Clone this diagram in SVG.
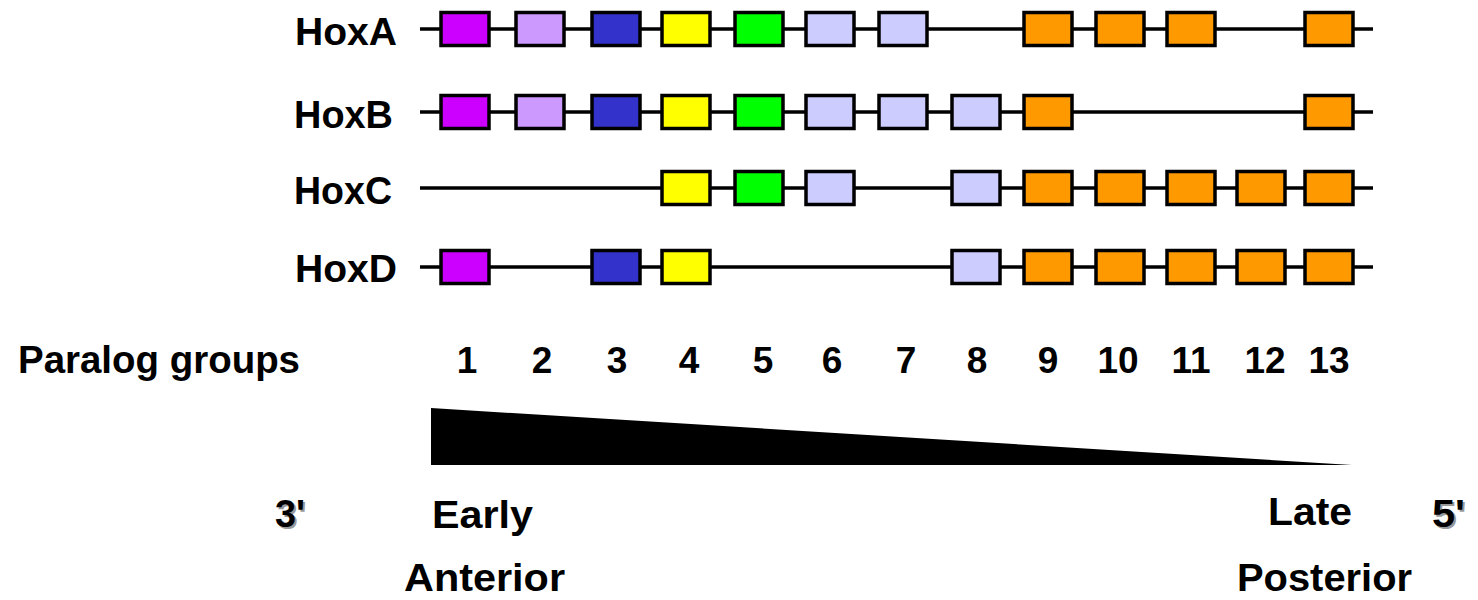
<svg xmlns="http://www.w3.org/2000/svg" width="1478" height="600" viewBox="0 0 1478 600">
<style>
.t{font-family:"Liberation Sans",Arial,sans-serif;font-weight:bold;font-size:39px;fill:#000}
.n{font-family:"Liberation Sans",Arial,sans-serif;font-weight:bold;font-size:37px;fill:#000;text-anchor:middle}
.sh{fill:#999}
.g{stroke:#000;stroke-width:3.5}
.c1{fill:#CC00FF}.c2{fill:#CC99FF}.c3{fill:#3333CC}.c4{fill:#FFFF00}.c5{fill:#00FF00}.c6{fill:#CCCCFF}.c9{fill:#FF9900}
.ln{stroke:#000;stroke-width:3.5;fill:none}
</style>
<rect width="1478" height="600" fill="#fff"/>
<g id="connectors">
<line class="ln" x1="420" y1="29" x2="1373" y2="29"/>
<line class="ln" x1="420" y1="112" x2="1373" y2="112"/>
<line class="ln" x1="420" y1="188" x2="1373" y2="188"/>
<line class="ln" x1="420" y1="267" x2="1373" y2="267"/>
</g>
<g id="HoxA">
<text class="t" x="295" y="45" textLength="102" lengthAdjust="spacingAndGlyphs">HoxA</text>
<rect class="g c1" x="441" y="12.5" width="48" height="33"/>
<rect class="g c2" x="516" y="12.5" width="48" height="33"/>
<rect class="g c3" x="592" y="12.5" width="48" height="33"/>
<rect class="g c4" x="662" y="12.5" width="48" height="33"/>
<rect class="g c5" x="735" y="12.5" width="48" height="33"/>
<rect class="g c6" x="806" y="12.5" width="48" height="33"/>
<rect class="g c6" x="879" y="12.5" width="48" height="33"/>
<rect class="g c9" x="1024" y="12.5" width="48" height="33"/>
<rect class="g c9" x="1096" y="12.5" width="48" height="33"/>
<rect class="g c9" x="1167" y="12.5" width="48" height="33"/>
<rect class="g c9" x="1305" y="12.5" width="48" height="33"/>
</g>
<g id="HoxB">
<text class="t" x="294" y="128" textLength="99" lengthAdjust="spacingAndGlyphs">HoxB</text>
<rect class="g c1" x="441" y="95.5" width="48" height="33"/>
<rect class="g c2" x="516" y="95.5" width="48" height="33"/>
<rect class="g c3" x="592" y="95.5" width="48" height="33"/>
<rect class="g c4" x="662" y="95.5" width="48" height="33"/>
<rect class="g c5" x="735" y="95.5" width="48" height="33"/>
<rect class="g c6" x="806" y="95.5" width="48" height="33"/>
<rect class="g c6" x="879" y="95.5" width="48" height="33"/>
<rect class="g c6" x="952" y="95.5" width="48" height="33"/>
<rect class="g c9" x="1024" y="95.5" width="48" height="33"/>
<rect class="g c9" x="1305" y="95.5" width="48" height="33"/>
</g>
<g id="HoxC">
<text class="t" x="294" y="204" textLength="98" lengthAdjust="spacingAndGlyphs">HoxC</text>
<rect class="g c4" x="662" y="171.5" width="48" height="33"/>
<rect class="g c5" x="735" y="171.5" width="48" height="33"/>
<rect class="g c6" x="806" y="171.5" width="48" height="33"/>
<rect class="g c6" x="952" y="171.5" width="48" height="33"/>
<rect class="g c9" x="1024" y="171.5" width="48" height="33"/>
<rect class="g c9" x="1096" y="171.5" width="48" height="33"/>
<rect class="g c9" x="1167" y="171.5" width="48" height="33"/>
<rect class="g c9" x="1237" y="171.5" width="48" height="33"/>
<rect class="g c9" x="1305" y="171.5" width="48" height="33"/>
</g>
<g id="HoxD">
<text class="t" x="295" y="282" textLength="102" lengthAdjust="spacingAndGlyphs">HoxD</text>
<rect class="g c1" x="441" y="250.5" width="48" height="33"/>
<rect class="g c3" x="592" y="250.5" width="48" height="33"/>
<rect class="g c4" x="662" y="250.5" width="48" height="33"/>
<rect class="g c6" x="952" y="250.5" width="48" height="33"/>
<rect class="g c9" x="1024" y="250.5" width="48" height="33"/>
<rect class="g c9" x="1096" y="250.5" width="48" height="33"/>
<rect class="g c9" x="1167" y="250.5" width="48" height="33"/>
<rect class="g c9" x="1237" y="250.5" width="48" height="33"/>
<rect class="g c9" x="1305" y="250.5" width="48" height="33"/>
</g>
<g id="paralog-groups">
<text class="t" x="18" y="373" textLength="282" lengthAdjust="spacingAndGlyphs">Paralog groups</text>
<text class="n" x="467" y="373">1</text>
<text class="n" x="542" y="373">2</text>
<text class="n" x="617" y="373">3</text>
<text class="n" x="689" y="373">4</text>
<text class="n" x="763" y="373">5</text>
<text class="n" x="832" y="373">6</text>
<text class="n" x="906" y="373">7</text>
<text class="n" x="977" y="373">8</text>
<text class="n" x="1048" y="373">9</text>
<text class="n" x="1118" y="373">10</text>
<text class="n" x="1191" y="373">11</text>
<text class="n" x="1265" y="373">12</text>
<text class="n" x="1329" y="373">13</text>
</g>
<g id="gradient">
<polygon points="431,408 431,465 1352,465" fill="#000"/>
</g>
<g id="labels">
<text class="t sh" x="277" y="529" textLength="30" lengthAdjust="spacingAndGlyphs">3'</text>
<text class="t" x="275" y="527" textLength="30" lengthAdjust="spacingAndGlyphs">3'</text>
<text class="t sh" x="1434" y="529" textLength="33" lengthAdjust="spacingAndGlyphs">5'</text>
<text class="t" x="1432" y="527" textLength="33" lengthAdjust="spacingAndGlyphs">5'</text>
<text class="t" x="432" y="528" textLength="101" lengthAdjust="spacingAndGlyphs">Early</text>
<text class="t" x="1268" y="525" textLength="84" lengthAdjust="spacingAndGlyphs">Late</text>
<text class="t" x="404" y="591" textLength="161" lengthAdjust="spacingAndGlyphs">Anterior</text>
<text class="t" x="1237" y="591" textLength="175" lengthAdjust="spacingAndGlyphs">Posterior</text>
</g>
</svg>
